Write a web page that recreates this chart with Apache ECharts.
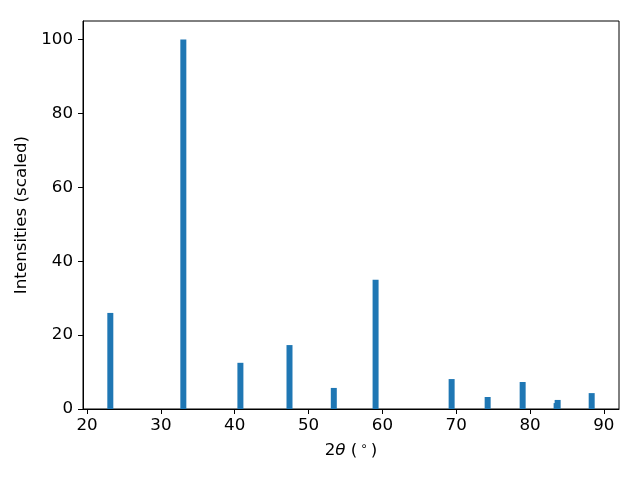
<!DOCTYPE html>
<html>
<head>
<meta charset="utf-8">
<script src="https://cdn.jsdelivr.net/npm/echarts@6/dist/echarts.min.js"></script>
<style>html,body{margin:0;padding:0;background:#fff}#c{width:640px;height:480px}</style>
</head>
<body>
<div id="c"></div>
<script>
var twoTheta = [23.15, 33.04, 40.77, 47.42, 53.42, 59.08, 69.38, 74.26, 79.0, 83.6, 83.74, 88.35];
var intensities = [26.0, 100, 12.5, 17.3, 5.7, 35.0, 8.1, 3.25, 7.3, 1.6, 2.45, 4.3];
var xTicks = [20, 30, 40, 50, 60, 70, 80, 90];
var yTicks = [0, 20, 40, 60, 80, 100];

var chart = echarts.init(document.getElementById('c'), null, {renderer: 'canvas'});
var data = twoTheta.map(function (x, i) { return [x, intensities[i]]; });
var font = 'DejaVu Sans';
var fs = 16.7;
chart.setOption({
  animation: false,
  backgroundColor: '#fff',
  grid: {left: 83, right: 21, top: 21, bottom: 71, show: true, borderColor: '#000', borderWidth: 1, backgroundColor: 'transparent'},
  xAxis: {
    type: 'value', min: 19.45, max: 92.05,
    axisLine: {show: true, lineStyle: {color: '#000', width: 1}},
    axisTick: {show: true, length: 5, lineStyle: {color: '#000'}, customValues: xTicks},
    axisLabel: {color: '#000', fontFamily: font, fontSize: fs, margin: 8, customValues: xTicks},
    splitLine: {show: false},
    name: '{n|2}{i|θ}{n| (}{s|∘}{n|)}',
    nameLocation: 'middle', nameGap: 32,
    nameTextStyle: {fontFamily: font, fontSize: fs, color: '#000',
      rich: {
        n: {fontFamily: font, fontSize: fs, color: '#000'},
        i: {fontFamily: font, fontSize: fs, fontStyle: 'italic', color: '#000'},
        s: {fontFamily: font, fontSize: 12, color: '#000', verticalAlign: 'top', padding: [0, 3, 7, 3]}
      }}
  },
  yAxis: {
    type: 'value', min: 0, max: 105,
    axisLine: {show: true, lineStyle: {color: '#000', width: 1}},
    axisTick: {show: true, length: 5, lineStyle: {color: '#000'}, customValues: yTicks},
    axisLabel: {color: '#000', fontFamily: font, fontSize: fs, margin: 10, customValues: yTicks},
    splitLine: {show: false},
    name: 'Intensities (scaled)', nameLocation: 'middle', nameGap: 47,
    nameTextStyle: {fontFamily: font, fontSize: fs, color: '#000'}
  },
  series: [{
    type: 'bar',
    data: data,
    barWidth: 6,
    itemStyle: {color: '#1f77b4'}
  }]
});
</script>
</body>
</html>
